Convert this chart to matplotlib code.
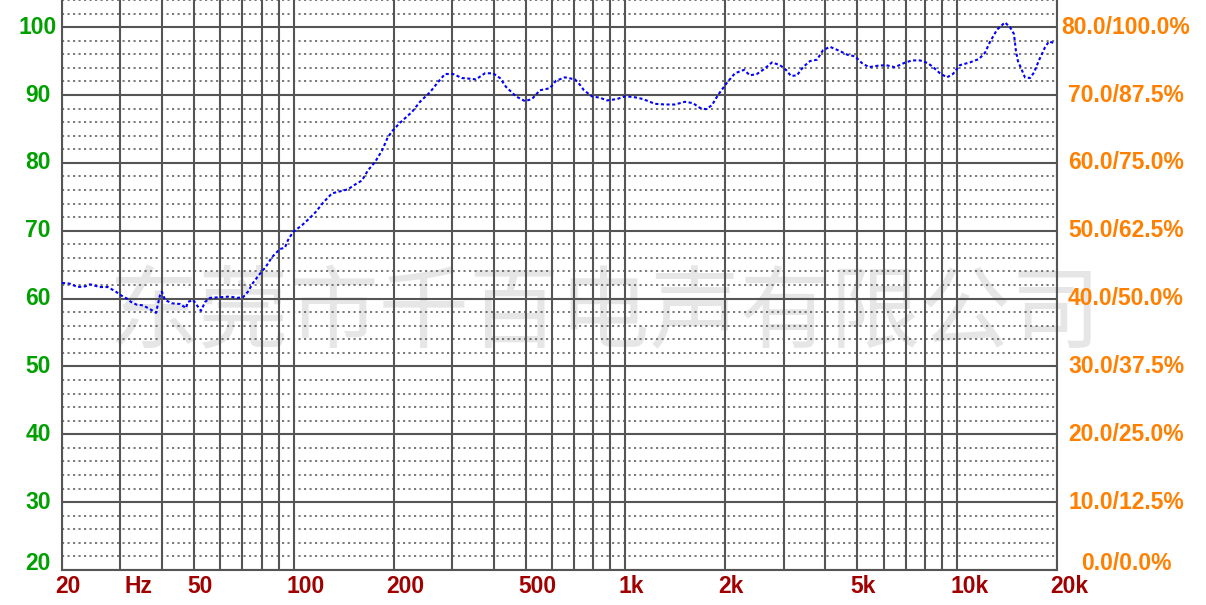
import matplotlib
matplotlib.use('Agg')
import matplotlib.pyplot as plt
from matplotlib.ticker import FixedLocator, NullFormatter, NullLocator
from matplotlib import transforms

# ---------------- data ----------------
freq_hz = [20, 21.1, 22.3, 23.5, 24.3, 26.0, 27.5, 29.1, 30.3, 31.4, 32.3, 33.6, 35.1, 36.3,
           37.6, 38.4, 39.5, 40.0, 40.9, 42.9, 45.4, 47.3, 47.9, 49.7, 51.4, 52.5, 54.0, 55.9,
           59.9, 64.2, 67.4, 70.3, 72.7, 75.3, 78.0, 80.7, 81.9, 85.9, 90.8, 94.0, 96.0, 99.4,
           105.8, 111.9, 116.6, 122.4, 130.3, 137.8, 145.6, 152.9, 160.5, 167.3, 175.6, 184.4,
           192.1, 199.0, 208.9, 227.1, 240.1, 257.3, 270.1, 285.6, 301.9, 321.3, 339.7, 354.1,
           376.9, 398.5, 418.4, 436.2, 467.5, 497.6, 522.4, 552.1, 591.8, 617.0, 656.8, 704.0,
           729.0, 749.4, 792.2, 837.4, 879.1, 942.5, 996.5, 1060, 1129, 1227, 1315, 1410, 1511,
           1597, 1677, 1748, 1823, 1874, 1927, 2022, 2138, 2276, 2373, 2491, 2615, 2765, 2922,
           3047, 3155, 3289, 3429, 3600, 3779, 3940, 4135, 4372, 4685, 4918, 5163, 5420, 5732,
           6099, 6491, 6910, 7304, 7722, 8164, 8511, 8874, 9315, 9714, 10195, 10925, 11630,
           12124, 12552, 13178, 13931, 14425, 14832, 15038, 15249, 15570, 16008, 16575, 17042,
           17642, 18393, 18910, 19713]
spl_db = [62.3, 62.2, 61.7, 61.8, 62.1, 61.7, 61.7, 61.0, 60.4, 60.0, 59.5, 59.1, 59.0, 58.6,
          58.2, 57.9, 60.5, 61.0, 59.8, 59.3, 59.2, 58.6, 59.5, 59.8, 58.8, 58.2, 59.5, 60.1,
          60.2, 60.3, 60.1, 60.2, 61.0, 62.3, 63.3, 64.2, 64.5, 66.1, 67.3, 67.5, 68.6, 69.8,
          70.8, 71.9, 72.8, 74.1, 75.5, 75.8, 76.1, 76.8, 77.4, 78.9, 80.1, 81.8,
          83.8, 84.8, 85.9, 87.5, 89.0, 90.4, 91.7, 93.1, 93.1, 92.5, 92.4, 92.3,
          93.2, 93.2, 92.5, 91.2, 89.8, 89.1, 89.4, 90.7, 91.0, 92.1, 92.6, 92.3,
          91.5, 90.7, 89.8, 89.6, 89.2, 89.4, 89.8, 89.7, 89.4, 88.7, 88.6, 88.6, 89.0,
          88.8, 88.1, 87.9, 88.5, 89.5, 90.4, 91.8, 93.2, 93.7, 92.9, 93.1, 93.8, 94.8, 94.4,
          93.7, 92.8, 92.9, 94.1, 95.0, 95.2, 96.6, 97.1, 96.6, 95.9, 95.7, 94.7, 94.1, 94.3,
          94.4, 94.1, 94.7, 95.1, 95.1, 94.7, 94.0, 93.2, 92.6, 93.1, 94.4, 94.8, 95.3,
          96.2, 97.8, 99.6, 100.7, 100.0, 99.0, 96.5, 95.0, 94.0, 92.6, 92.5, 93.3,
          95.1, 97.0, 97.9, 97.6]

x_tick_values = [20, 50, 100, 200, 500, 1000, 2000, 5000, 10000, 20000]
x_tick_labels = ['20', '50', '100', '200', '500', '1k', '2k', '5k', '10k', '20k']
hz_label = 'Hz'
hz_label_freq = 33.9
y_left_values = [20, 30, 40, 50, 60, 70, 80, 90, 100]
y_left_labels = ['20', '30', '40', '50', '60', '70', '80', '90', '100']
y_right_labels = ['0.0/0.0%', '10.0/12.5%', '20.0/25.0%', '30.0/37.5%', '40.0/50.0%',
                  '50.0/62.5%', '60.0/75.0%', '70.0/87.5%', '80.0/100.0%']
watermark = '东莞市千百电声有限公司'

# ---------------- figure ----------------
W, H = 1206, 605
fig = plt.figure(figsize=(W / 100, H / 100), dpi=100)
ax_l, ax_r, ax_top, ax_bot = 62, 1057, 0, 570
ax = fig.add_axes([ax_l / W, (H - ax_bot) / H, (ax_r - ax_l) / W, (ax_bot - ax_top) / H])
ax_w = ax_r - ax_l
ax_h = ax_bot - ax_top

grid_col = '#555555'
ax.set_xscale('log')
ax.set_xlim(20, 20000)
ax.set_ylim(20, 104)

grid_freqs = []
for dec in [10, 100, 1000, 10000]:
    for m in range(1, 10):
        f = m * dec
        if 20 <= f <= 20000:
            grid_freqs.append(f)
ax.xaxis.set_major_locator(FixedLocator(grid_freqs))
ax.xaxis.set_minor_locator(NullLocator())
ax.xaxis.set_major_formatter(NullFormatter())
ax.yaxis.set_major_locator(FixedLocator(y_left_values))
ax.yaxis.set_minor_locator(FixedLocator([v for v in range(22, 105, 2) if v % 10 != 0]))
ax.yaxis.set_major_formatter(NullFormatter())
ax.yaxis.set_minor_formatter(NullFormatter())
ax.tick_params(which='both', length=0)
ax.set_axisbelow(True)
ax.grid(axis='x', which='major', color=grid_col, lw=1.5, ls='-')
ax.grid(axis='y', which='major', color=grid_col, lw=1.5, ls='-')
ax.grid(axis='y', which='minor', color=grid_col, lw=1.1, ls=(0, (1.4, 2.2)))
for s in ['left', 'bottom', 'right']:
    ax.spines[s].set_color(grid_col)
    ax.spines[s].set_linewidth(1.5)
ax.spines['top'].set_visible(False)

# watermark (behind grid)
ax.text((605 - ax_l) / ax_w, (ax_bot - 316) / ax_h, watermark, transform=ax.transAxes,
        ha='center', va='center', fontsize=65, color='#e6e6e6',
        family=['Noto Sans CJK SC', 'DejaVu Sans'], zorder=0.3, clip_on=False)

# curve
ax.plot(freq_hz, spl_db, color='#0000ff', lw=1.5, ls=(0, (1.5, 1.2)), zorder=3)

# labels
lab_font = dict(family=['Liberation Sans', 'DejaVu Sans'], fontweight='bold', fontsize=16.5)
ytr = ax.get_yaxis_transform()
for v, lab, rlab in zip(y_left_values, y_left_labels, y_right_labels):
    yy = v + 1.0 if v == 20 else v
    ax.text(-24 / ax_w, yy, lab, transform=ytr, ha='center', va='center',
            color='#00a000', **lab_font)
    ax.text(1 + 69 / ax_w, yy, rlab, transform=ytr, ha='center', va='center',
            color='#ff8000', clip_on=False, zorder=5, **lab_font)

xtr = transforms.offset_copy(ax.get_xaxis_transform(), fig=fig, x=-7, y=0, units='dots')
ylab = -(586.7 - ax_bot) / ax_h
for v, lab in zip(x_tick_values, x_tick_labels):
    ax.text(v, ylab, lab, transform=xtr, ha='left', va='center', color='#a00000', **lab_font)
ax.text(hz_label_freq, ylab, hz_label, transform=ax.get_xaxis_transform(), ha='center',
        va='center', color='#a00000', **lab_font)

fig.savefig('out.png', dpi=100)
